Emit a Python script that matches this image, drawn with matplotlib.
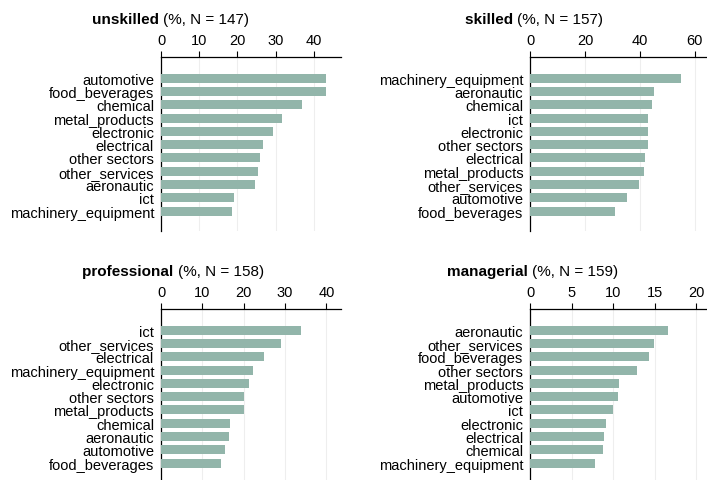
import numpy as np
import matplotlib.pyplot as plt

plt.rcParams['font.family'] = ['Liberation Sans', 'DejaVu Sans']

# category order top -> bottom, values in %
unskilled_cats = ['automotive', 'food_beverages', 'chemical', 'metal_products', 'electronic',
                  'electrical', 'other sectors', 'other_services', 'aeronautic', 'ict',
                  'machinery_equipment']
unskilled_vals = [43.2, 43.1, 36.9, 31.6, 29.3, 26.8, 26.0, 25.5, 24.5, 19.1, 18.7]

skilled_cats = ['machinery_equipment', 'aeronautic', 'chemical', 'ict', 'electronic',
                'other sectors', 'electrical', 'metal_products', 'other_services', 'automotive',
                'food_beverages']
skilled_vals = [54.9, 45.1, 44.2, 43.0, 42.8, 42.8, 41.8, 41.4, 39.5, 35.4, 31.0]

professional_cats = ['ict', 'other_services', 'electrical', 'machinery_equipment', 'electronic',
                     'other sectors', 'metal_products', 'chemical', 'aeronautic', 'automotive',
                     'food_beverages']
professional_vals = [33.9, 29.0, 25.0, 22.3, 21.2, 20.1, 20.0, 16.7, 16.4, 15.4, 14.4]

managerial_cats = ['aeronautic', 'other_services', 'food_beverages', 'other sectors',
                   'metal_products', 'automotive', 'ict', 'electronic', 'electrical', 'chemical',
                   'machinery_equipment']
managerial_vals = [16.6, 14.9, 14.3, 12.8, 10.7, 10.6, 10.0, 9.1, 8.9, 8.8, 7.8]

W, H = 707, 481
fig = plt.figure(figsize=(W / 100, H / 100), dpi=100)

bar_color = '#92b5aa'


def panel_title(x, y, name, n):
    # bold group name followed by the plain "(%, N = ...)" part
    fig.text(x / W, 1 - y / H, name + ' ', fontsize=11, fontweight='bold', ha='right', va='center')
    fig.text(x / W, 1 - y / H, '(%%, N = %d)' % n, fontsize=11, ha='left', va='center')


def make(x0, y_top, ppu, xmax, ticks, cats, vals):
    # x0, y_top in pixels; ppu = pixels per x unit
    width = xmax * ppu
    height = 174
    ax = fig.add_axes([x0 / W, 1 - (y_top + height) / H, width / W, height / H])
    y = np.arange(len(cats))
    ax.barh(y, vals, height=0.68, color=bar_color, zorder=3)
    ax.set_ylim(len(cats) - 1 + 1.5, -1.6)
    ax.set_xlim(0, xmax)
    ax.set_yticks(y)
    ax.set_yticklabels(cats, fontsize=10.5)
    ax.set_xticks(ticks)
    ax.set_xticklabels([str(t) for t in ticks], fontsize=10.5)
    ax.xaxis.tick_top()
    ax.tick_params(axis='y', length=0, pad=5)
    ax.tick_params(axis='x', length=4, width=0.8, pad=3, direction='out')
    for s in ['right', 'bottom']:
        ax.spines[s].set_visible(False)
    for s in ['top', 'left']:
        ax.spines[s].set_linewidth(0.9)
    ax.grid(axis='x', color='#eeeeee', linewidth=0.8, zorder=0)
    return ax


make(161, 58, 3.817, 47.1, [0, 10, 20, 30, 40], unskilled_cats, unskilled_vals)
panel_title(163, 20, 'unskilled', 147)

make(530.3, 58, 2.743, 66, [0, 20, 40, 60], skilled_cats, skilled_vals)
panel_title(517, 20, 'skilled', 157)

make(161, 310, 4.133, 43.5, [0, 10, 20, 30, 40], professional_cats, professional_vals)
panel_title(178, 272, 'professional', 158)

make(530.3, 310, 8.3, 21.5, [0, 5, 10, 15, 20], managerial_cats, managerial_vals)
panel_title(532, 272, 'managerial', 159)

fig.savefig('out.png', dpi=100)
